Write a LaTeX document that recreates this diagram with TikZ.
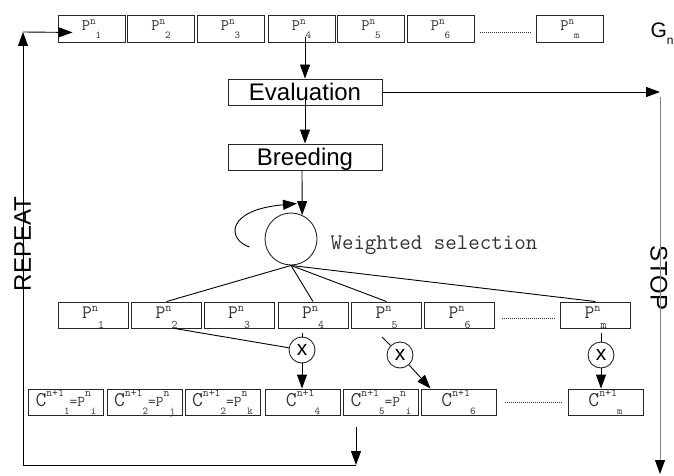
\documentclass[tikz,border=0pt]{standalone}
\usepackage{fontspec}
\setmainfont{Liberation Sans}
\usepackage{tikz}
\usetikzlibrary{arrows.meta,positioning,calc}

\newcommand{\fsz}[1]{\fontsize{#1}{#1}\selectfont}
\newcommand{\toplab}[1]{{\fsz{16}P}\raisebox{6pt}{\fsz{11}n}\raisebox{-8pt}{\fsz{10.5}#1}}
\newcommand{\midlab}[1]{{\fsz{19}P}\raisebox{7pt}{\fsz{12}n}\raisebox{-10pt}{\fsz{11.5}#1}}
\newcommand{\chsup}[1]{\raisebox{10pt}{\fsz{11.5}#1}}
\newcommand{\chsub}[1]{\raisebox{-8pt}{\fsz{10.5}#1}}
\newcommand{\clab}[2]{{\fsz{21}C}\chsup{n+1}\chsub{#1}#2}
\newcommand{\ceq}[1]{{\fsz{15}=P}\chsup{n}\chsub{#1}}

\begin{document}
\begin{tikzpicture}[x=1pt, y=-1pt,
    popbox/.style={rectangle, draw=black!85, line width=0.9pt, minimum width=67pt, minimum height=27pt, inner sep=0pt, font=\ttfamily, text=black!80, text height=10pt, text depth=5pt},
    midbox/.style={popbox, minimum width=70pt, minimum height=26pt, text height=12pt, text depth=6pt},
    childbox/.style={popbox, minimum width=75pt, minimum height=26pt, text height=12pt, text depth=4pt},
    stepbox/.style={rectangle, draw=black!85, line width=0.9pt, minimum width=154pt, minimum height=26pt, inner sep=0pt, font=\fsz{24}, text height=17pt, text depth=0pt},
    selcirc/.style={circle, draw=black!85, line width=0.9pt, minimum size=52pt, inner sep=0pt},
    xover/.style={circle, draw=black!85, line width=0.9pt, minimum size=26pt, inner sep=0pt, font=\fsz{21}},
    gap/.style={dash pattern=on 1pt off 1pt, line width=0.9pt, black!80},
    arrow/.style={-{Triangle[length=14pt,width=10pt]}, line width=0.9pt},
    stopline/.style={-{Triangle[length=14pt,width=10pt,color=black]}, line width=0.9pt, black!50}
]
\useasboundingbox (0,0) rectangle (674,476);

% generation n
\foreach \i/\x in {1/91.5,2/161,3/230.5,4/301.5,5/371,6/440.5}
    \node[popbox] (p\i) at (\x,28.5) {\toplab{\i}};
\node[popbox] (pm) at (570,28.5) {\toplab{m}};
\draw[gap] ($(p6.east)+(6,3.5)$) -- ($(pm.west)+(-5,3.5)$);
\node[anchor=base west, font=\fsz{21}] (gen) at (647,38) {G\raisebox{-7pt}{\fsz{12}n}};

% evaluation and breeding
\node[stepbox] (eval) at (305,92) {Evaluation};
\node[stepbox] (breed) at (305,157) {Breeding};
\node[selcirc] (sel) at (291,239) {};
\node[anchor=base west, font=\ttfamily\fsz{22.3}, text=black!80] (wsel) at (327,249) {Weighted selection};

% selected parents
\foreach \i/\x in {1/93,2/166.5,3/239,4/313,5/386.5,6/459.5}
    \node[midbox] (q\i) at (\x,315) {\midlab{\i}};
\node[midbox] (qm) at (595.5,315) {\midlab{m}};
\draw[gap] ($(q6.east)+(7,3)$) -- ($(qm.west)+(-6,3)$);

% crossover
\node[xover] (x1) at (302,350) {x};
\node[xover] (x2) at (400,355) {x};
\node[xover] (x3) at (601,355) {x};
\coordinate (x2in) at (382,337);

% children
\node[childbox] (c1) at (66,402) {\clab{1}{\ceq{i}}};
\node[childbox] (c2) at (144.5,402) {\clab{2}{\ceq{j}}};
\node[childbox] (c3) at (222.5,402) {\clab{2}{\ceq{k}}};
\node[childbox] (c4) at (303,402) {\clab{4}{}};
\node[childbox] (c5) at (381,402) {\clab{5}{\ceq{i}}};
\node[childbox] (c6) at (458.5,402) {\clab{6}{}};
\node[childbox] (cm) at (605.5,402) {\clab{m}{}};
\draw[gap] ($(c6.east)+(9,0)$) -- ($(cm.west)+(-5,0)$);

% loop and stop
\coordinate (back) at (356,427);
\coordinate (loopbr) at (356,465);
\coordinate (loopbl) at (23,465);
\coordinate (looptl) at (23,32);
\coordinate (stopc) at (660,92);
\coordinate (stopend) at (660,474);
\node[rotate=90, font=\fsz{24}] (repeat) at (22.5,244) {REPEAT};
\node[rotate=-90, font=\fsz{24}] (stop) at (659,278) {STOP};

\draw[arrow] ($(eval.north |- p4.south)+(0,-5)$) -- (eval.north);
\draw[arrow] ([yshift=-4pt]eval.center) -- (breed.north);
\draw[arrow] ([xshift=-3pt]breed.south) -- (sel.65);
\draw[arrow] ($(sel.west)+(-15,8)$) .. controls ($(sel.west)+(-37,1)$) and ($(sel.west)+(-40,-29)$) .. ($(sel.north)+(6,-9)$);
\draw[line width=0.9pt] (sel.south) -- (q2.north);
\draw[line width=0.9pt] (sel.south) -- (q4.north);
\draw[line width=0.9pt] (sel.south) -- (q5.north);
\draw[line width=0.9pt] (sel.south) -- (qm.north);
\draw[line width=0.9pt] ([xshift=8pt]q2.south) -- (x1);
\draw[line width=0.9pt] ($(x1.north |- q4.south)+(0,5)$) -- (x1.north);
\draw[arrow] (x1.south) -- (x1.south |- c4.north);
\draw[line width=0.9pt] (x2in) -- (x2);
\draw[arrow] (x2) -- ($(c6.north west)+(10,0)$);
\draw[line width=0.9pt] ($(x3.north |- qm.south)+(0,5)$) -- (x3.north);
\draw[arrow] (x3.south) -- (x3.south |- cm.north);
\draw[arrow] (back) -- (loopbr);
\draw[arrow] (loopbr) -- (loopbl) -- (looptl);
\draw[arrow] (looptl) -- ($(p1.south west)+(15,-10)$);
\draw[arrow] (eval.east |- stopc) -- (stopc);
\draw[stopline] ($(stopc)+(0,5)$) -- (stopend);
\end{tikzpicture}
\end{document}
